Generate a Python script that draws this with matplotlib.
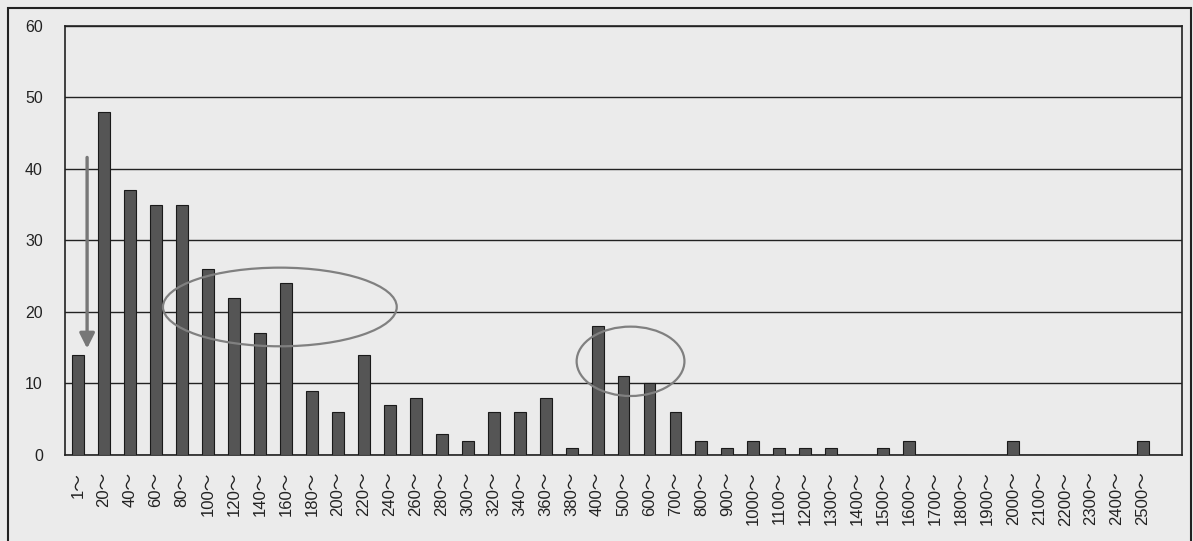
import matplotlib.pyplot as plt
import numpy as np
from matplotlib.patches import Ellipse, Rectangle

# カテゴリと度数
categories = ["1〜", "20〜", "40〜", "60〜", "80〜", "100〜", "120〜", "140〜", "160〜", "180〜",
              "200〜", "220〜", "240〜", "260〜", "280〜", "300〜", "320〜", "340〜", "360〜", "380〜",
              "400〜", "500〜", "600〜", "700〜", "800〜", "900〜", "1000〜", "1100〜", "1200〜", "1300〜",
              "1400〜", "1500〜", "1600〜", "1700〜", "1800〜", "1900〜", "2000〜", "2100〜", "2200〜",
              "2300〜", "2400〜", "2500〜"]
counts = [14, 48, 37, 35, 35, 26, 22, 17, 24, 9,
          6, 14, 7, 8, 3, 2, 6, 6, 8, 1,
          18, 11, 10, 6, 2, 1, 2, 1, 1, 1,
          0, 1, 2, 0, 0, 0, 2, 0, 0,
          0, 0, 2]
yticks = [0, 10, 20, 30, 40, 50, 60]

plt.rcParams['font.family'] = ['Liberation Sans', 'Noto Sans CJK JP', 'DejaVu Sans']

bg = '#ebebeb'
fig = plt.figure(figsize=(11.93, 5.41), dpi=100, facecolor=bg)
ax = fig.add_axes([0.0545, 0.159, 0.9363, 0.793])
ax.set_facecolor(bg)

x = np.arange(len(categories))
ax.bar(x, counts, width=0.46, color='#555555', edgecolor='#1a1a1a', linewidth=0.8, zorder=3)

ax.set_xlim(-0.5, len(categories) + 0.5)
ax.set_ylim(0, 60)
ax.set_yticks(yticks)
ax.set_xticks(x)
ax.set_xticklabels(categories, rotation=90, fontsize=12, color='#222222')
ax.tick_params(axis='y', length=0, pad=16, labelsize=11.5, labelcolor='#222222')
ax.tick_params(axis='x', length=0, pad=12)
ax.yaxis.grid(True, color='#222222', linewidth=1.0)
ax.set_axisbelow(True)
for s in ax.spines.values():
    s.set_color('#222222')
    s.set_linewidth(1.2)

# 注釈（矢印と楕円）
ax.annotate('', xy=(0.35, 14.5), xytext=(0.35, 42),
            arrowprops=dict(arrowstyle='-|>,head_width=0.45,head_length=0.9',
                            color='#777777', lw=2.4))
ax.add_patch(Ellipse((7.77, 20.7), 9.0, 11.0, fill=False, edgecolor='#808080', lw=1.6, zorder=4))
ax.add_patch(Ellipse((21.27, 13.1), 4.15, 9.7, fill=False, edgecolor='#808080', lw=1.6, zorder=4))

# 外枠
fig.patches.append(Rectangle((0.0067, -0.05), 0.9913, 1.035, transform=fig.transFigure,
                             fill=False, edgecolor='#222222', linewidth=1.5))

fig.savefig('out.png', dpi=100, facecolor=bg)
